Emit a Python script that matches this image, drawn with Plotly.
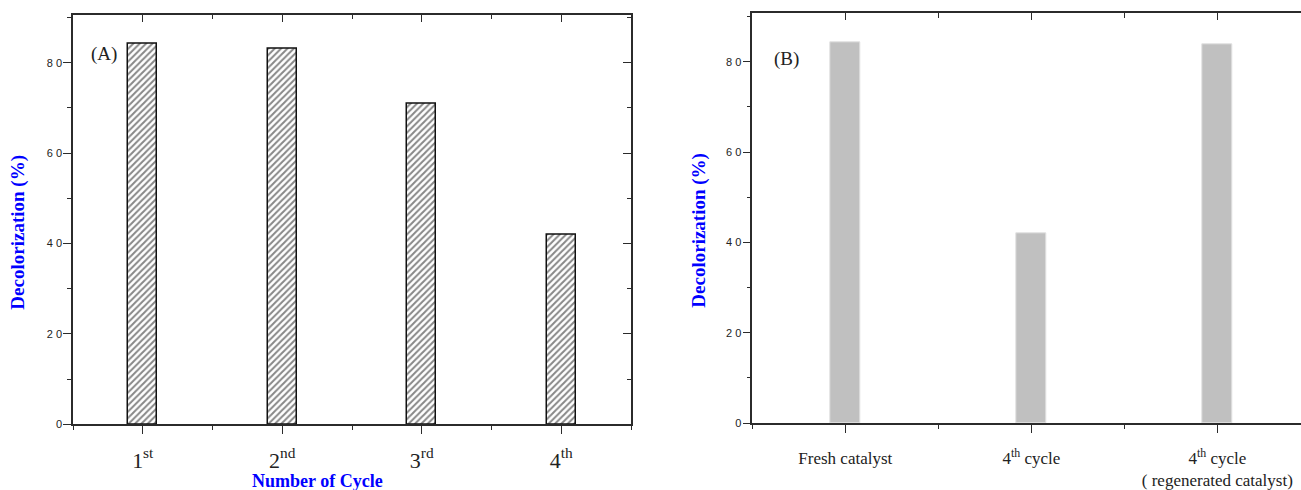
import plotly.graph_objects as go

# ---- data ----
cycles_a = ["1<sup>st</sup>", "2<sup>nd</sup>", "3<sup>rd</sup>", "4<sup>th</sup>"]
decol_a = [84.1, 83.1, 71.0, 41.9]

labels_b = ["Fresh catalyst", "4<sup>th</sup> cycle",
            "4<sup>th</sup> cycle<br>( regenerated catalyst)"]
decol_b = [84.2, 42.0, 83.9]

y_major = [0, 20, 40, 60, 80]
y_minor = [10, 30, 50, 70, 90]

W, H = 1301, 490
BLUE = "#0000ff"
LINE = "#2b2b2b"
SERIF = "Liberation Serif, Times New Roman, serif"
SANS = "Liberation Sans, Arial, sans-serif"

xa_pos = [i + 1 for i in range(len(cycles_a))]
xb_pos = [i + 1 for i in range(len(labels_b))]

fig = go.Figure()
fig.add_trace(go.Bar(
    x=xa_pos, y=decol_a, width=0.21, xaxis="x", yaxis="y",
    marker=dict(color="white", line=dict(color="#111", width=1.5),
                pattern=dict(shape="/", fgcolor="#111", bgcolor="white", size=4.5, solidity=0.45)),
    showlegend=False, hoverinfo="skip"))
fig.add_trace(go.Bar(
    x=xb_pos, y=decol_b, width=0.156, xaxis="x2", yaxis="y2",
    marker=dict(color="#c0c0c0", line=dict(color="#e2e2e2", width=1)),
    showlegend=False, hoverinfo="skip"))

# invisible helpers so the mirrored (inward-tick) frame axes are drawn
for xa, ya, xs, ys in [("x3", "y", xa_pos, decol_a), ("x", "y3", xa_pos, decol_a),
                       ("x4", "y2", xb_pos, decol_b)]:
    fig.add_trace(go.Scatter(x=xs, y=ys, xaxis=xa, yaxis=ya, mode="markers",
                             marker=dict(opacity=0), showlegend=False, hoverinfo="skip"))


def px_x(p):
    return p / W


def px_y(p):
    return (H - p) / H


domA_x = [px_x(73), px_x(631)]
domA_y = [px_y(430.5), px_y(15)]
domB_x = [px_x(752.3), 1.0]
domB_y = [px_y(429.3), px_y(13.5)]
rangeA_y = [0, 90.6]
rangeB_y = [0, 90.7]
rangeA_x = [0.5, 4.5]
rangeB_x = [0.5, 3.45]

common_line = dict(showline=True, linecolor=LINE, linewidth=1.5, showgrid=False, zeroline=False)

ytick = dict(tickmode="array", tickvals=y_major,
             ticktext=[" ".join(str(v)) for v in y_major],
             tickfont=dict(family=SANS, size=11, color="#222"),
             ticks="outside", ticklen=8, tickwidth=1.3, tickcolor=LINE,
             minor=dict(tickvals=y_minor, ticks="outside", ticklen=4, tickwidth=1.3, tickcolor=LINE),
             ticklabelstandoff=-1)

fig.update_layout(
    width=W, height=H, margin=dict(l=0, r=0, t=0, b=0),
    paper_bgcolor="white", plot_bgcolor="white", bargap=0,
    xaxis=dict(domain=domA_x, range=rangeA_x, anchor="y", tickmode="array",
               tickvals=xa_pos, ticktext=cycles_a,
               tickfont=dict(family=SERIF, size=22, color="#222"),
               ticks="outside", ticklen=8, tickwidth=1.3, tickcolor=LINE,
               minor=dict(tickvals=[0.5, 1.5, 2.5, 3.5, 4.5], ticks="outside", ticklen=4,
                          tickwidth=1.3, tickcolor=LINE),
               ticklabelstandoff=7, **common_line),
    yaxis=dict(domain=domA_y, range=rangeA_y, anchor="x", **ytick, **common_line),
    xaxis3=dict(overlaying="x", side="top", anchor="y", range=rangeA_x, tickmode="array",
                tickvals=xa_pos, showticklabels=False,
                ticks="inside", ticklen=7, tickwidth=1.3, tickcolor=LINE,
                minor=dict(tickvals=[1.5, 2.5, 3.5], ticks="inside", ticklen=4,
                           tickwidth=1.3, tickcolor=LINE),
                **common_line),
    yaxis3=dict(overlaying="y", side="right", anchor="x", range=rangeA_y, tickmode="array",
                tickvals=y_major, showticklabels=False,
                ticks="inside", ticklen=8, tickwidth=1.3, tickcolor=LINE,
                minor=dict(tickvals=y_minor, ticks="inside", ticklen=4, tickwidth=1.3, tickcolor=LINE),
                **common_line),
    xaxis2=dict(domain=domB_x, range=rangeB_x, anchor="y2", tickmode="array",
                tickvals=xb_pos, ticktext=labels_b,
                tickfont=dict(family=SERIF, size=17, color="#222"),
                ticks="outside", ticklen=8, tickwidth=1.3, tickcolor=LINE,
                minor=dict(tickvals=[0.5, 1.5, 2.5], ticks="outside", ticklen=4,
                           tickwidth=1.3, tickcolor=LINE),
                ticklabelstandoff=11, **common_line),
    yaxis2=dict(domain=domB_y, range=rangeB_y, anchor="x2", **ytick, **common_line),
    xaxis4=dict(overlaying="x2", side="top", anchor="y2", range=rangeB_x, tickmode="array",
                tickvals=xb_pos, showticklabels=False,
                ticks="inside", ticklen=7, tickwidth=1.3, tickcolor=LINE,
                minor=dict(tickvals=[1.5, 2.5], ticks="inside", ticklen=5,
                           tickwidth=1.3, tickcolor=LINE),
                **common_line),
)

ann_font_title = dict(family=SERIF, size=19, color=BLUE)
fig.add_annotation(text="<b>Decolorization (%)</b>", xref="paper", yref="paper",
                   x=px_x(18), y=px_y(236), textangle=-90, showarrow=False,
                   font=ann_font_title, xanchor="center", yanchor="middle")
fig.add_annotation(text="<b>Decolorization (%)</b>", xref="paper", yref="paper",
                   x=px_x(699), y=px_y(234), textangle=-90, showarrow=False,
                   font=ann_font_title, xanchor="center", yanchor="middle")
fig.add_annotation(text="<b>Number of Cycle</b>", xref="paper", yref="paper",
                   x=px_x(317), y=px_y(488), showarrow=False,
                   font=dict(family=SERIF, size=18, color=BLUE), xanchor="center", yanchor="middle")
fig.add_annotation(text="(A)", xref="paper", yref="paper",
                   x=px_x(104), y=px_y(55), showarrow=False,
                   font=dict(family=SERIF, size=19, color="#222"), xanchor="center", yanchor="middle")
fig.add_annotation(text="(B)", xref="paper", yref="paper",
                   x=px_x(786), y=px_y(60), showarrow=False,
                   font=dict(family=SERIF, size=19, color="#222"), xanchor="center", yanchor="middle")

fig.write_html("out.html", config={"displayModeBar": False},
               post_script="document.body.style.margin='0';document.body.style.overflow='hidden';")
